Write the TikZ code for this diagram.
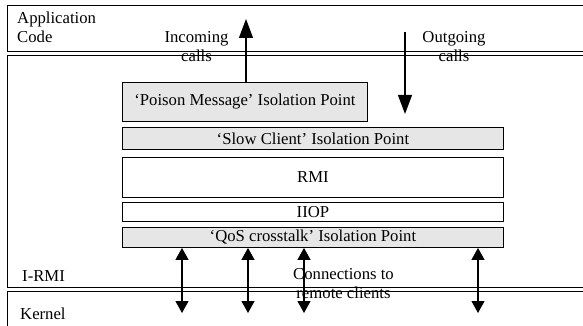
\documentclass[tikz,border=0pt]{standalone}
\usepackage{fontspec}
\setmainfont{Liberation Serif}
\usetikzlibrary{arrows.meta}
\definecolor{boxgray}{RGB}{230,230,230}
\begin{document}
\begin{tikzpicture}[x=1pt,y=-1pt,
  every node/.style={font=\fontsize{16.7}{19}\selectfont},
  layer/.style={draw, line width=0.9pt, inner sep=0pt, anchor=north west},
  graybox/.style={layer, fill=boxgray},
  whitebox/.style={layer, fill=white},
  lbl/.style={inner sep=0pt, align=center},
  callarrow/.style={line width=1.1pt, -{Triangle[length=19pt,width=14pt]}},
  connarrow/.style={line width=1.1pt, {Triangle[length=12pt,width=13pt]}-{Triangle[length=12pt,width=13pt]}}
]
\useasboundingbox (0,0) rectangle (583,326);
\clip (0,0) rectangle (583,326);
% outer layers
\node[layer, minimum width=620pt, minimum height=46pt] (app) at (7,5) {};
\node[layer, minimum width=620pt, minimum height=232pt] (irmi) at (7,55) {};
\node[layer, minimum width=620pt, minimum height=34.5pt] (kernel) at (7,291) {};
% inner boxes
\node[graybox, minimum width=245pt, minimum height=39pt] (poison) at (122,82) {`Poison Message' Isolation Point};
\node[graybox, minimum width=381pt, minimum height=22pt] (slow) at (122,127) {`Slow Client' Isolation Point};
\node[whitebox, minimum width=381pt, minimum height=40pt] (rmi) at (122,157) {RMI};
\node[whitebox, minimum width=381pt, minimum height=19pt] (iiop) at (122,202) {IIOP};
\node[graybox, minimum width=381pt, minimum height=20pt] (qos) at (122,227) {`QoS crosstalk' Isolation Point};
% labels
\node[lbl, align=left, anchor=north west] (apptext) at (17,11.6) {Application\\Code};
\node[lbl, anchor=north] (intext) at (196.5,31) {Incoming\\calls};
\node[lbl, anchor=north] (outtext) at (454,31) {Outgoing\\calls};
\node[inner sep=0pt, anchor=base west] (irmitext) at (22,281) {I-RMI};
\node[inner sep=0pt, anchor=base west] (kerneltext) at (20,319) {Kernel};
\node[lbl, anchor=north] (conntext) at (343.5,268) {Connections to\\remote clients};
% call arrows
\coordinate (inTip) at (246,19);
\coordinate (outStart) at (405,32);
\coordinate (outTip) at (405,114);
\draw[callarrow] (poison.north -| inTip) -- (inTip);
\draw[callarrow] (outStart) -- (outTip);
% connections
\coordinate (c1) at (182,313);
\coordinate (c2) at (248,313);
\coordinate (c3) at (304,313);
\coordinate (c4) at (478,313);
\foreach \c in {c1,c2,c3,c4}
  \draw[connarrow] (qos.south -| \c) -- (\c);
\end{tikzpicture}
\end{document}
